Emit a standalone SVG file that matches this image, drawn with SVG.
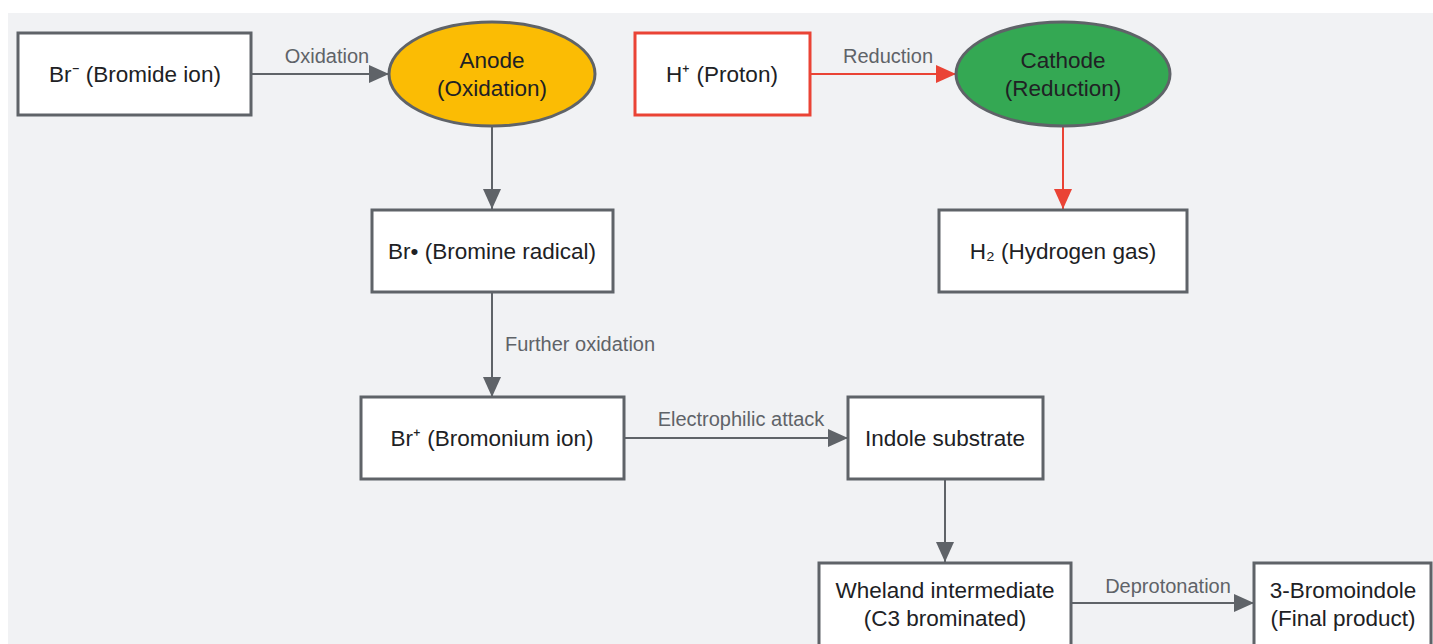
<svg xmlns="http://www.w3.org/2000/svg" width="1433" height="644" viewBox="0 0 1433 644">
<defs>
<marker id="ag" viewBox="0 0 20 20" refX="20" refY="10" markerWidth="20" markerHeight="20" markerUnits="userSpaceOnUse" orient="auto"><path d="M0,1 L20,10 L0,19 Z" fill="#5f6368"/></marker>
<marker id="ar" viewBox="0 0 20 20" refX="20" refY="10" markerWidth="20" markerHeight="20" markerUnits="userSpaceOnUse" orient="auto"><path d="M0,1 L20,10 L0,19 Z" fill="#ea4335"/></marker>
<style>
.box{fill:#ffffff;stroke:#5f6368;stroke-width:3}
.red{stroke:#ea4335}
.t{font-family:"Liberation Sans",Arial,sans-serif;font-size:22.5px;fill:#202124;text-anchor:middle}
.l{font-family:"Liberation Sans",Arial,sans-serif;font-size:20px;fill:#5f6368;text-anchor:middle}
.e{fill:none;stroke:#5f6368;stroke-width:2;marker-end:url(#ag)}
.er{fill:none;stroke:#ea4335;stroke-width:2;marker-end:url(#ar)}
</style>
</defs>
<rect x="0" y="0" width="1433" height="644" fill="#ffffff"/>
<rect x="8" y="13" width="1425" height="631" fill="#f1f2f4"/>
<g id="connectors">
<path class="e" d="M251,74 L389,74"/>
<text class="l" x="327" y="63">Oxidation</text>
<path class="e" d="M492,126 L492,209"/>
<path class="e" d="M492,292 L492,397"/>
<text class="l" x="505" y="351" style="text-anchor:start">Further oxidation</text>
<path class="e" d="M624,438 L848,438"/>
<text class="l" x="741" y="426">Electrophilic attack</text>
<path class="e" d="M945,479 L945,562"/>
<path class="e" d="M1071,603 L1254,603"/>
<text class="l" x="1168" y="593">Deprotonation</text>
<path class="er" d="M810,74 L956,74"/>
<text class="l" x="888" y="63">Reduction</text>
<path class="er" d="M1063,126 L1063,209"/>
</g>
<g id="bromide"><rect class="box" x="18" y="33" width="233" height="82"/><text class="t" x="135" y="82">Br⁻ (Bromide ion)</text></g>
<g id="anode"><ellipse cx="492" cy="74" rx="103" ry="52" fill="#fbbc04" stroke="#5f6368" stroke-width="3"/><text class="t" x="492" y="68">Anode</text><text class="t" x="492" y="96">(Oxidation)</text></g>
<g id="proton"><rect class="box red" x="635" y="33" width="175" height="82"/><text class="t" x="722" y="82">H⁺ (Proton)</text></g>
<g id="cathode"><ellipse cx="1063" cy="74" rx="107" ry="52" fill="#34a853" stroke="#5f6368" stroke-width="3"/><text class="t" x="1063" y="68">Cathode</text><text class="t" x="1063" y="96">(Reduction)</text></g>
<g id="radical"><rect class="box" x="372" y="210" width="241" height="82"/><text class="t" x="492" y="259">Br• (Bromine radical)</text></g>
<g id="hydrogen"><rect class="box" x="939" y="210" width="248" height="82"/><text class="t" x="1063" y="259">H₂ (Hydrogen gas)</text></g>
<g id="bromonium"><rect class="box" x="361" y="397" width="263" height="82"/><text class="t" x="492" y="446">Br⁺ (Bromonium ion)</text></g>
<g id="indole"><rect class="box" x="848" y="397" width="195" height="82"/><text class="t" x="945" y="446">Indole substrate</text></g>
<g id="wheland"><rect class="box" x="819" y="563" width="252" height="90"/><text class="t" x="945" y="598">Wheland intermediate</text><text class="t" x="945" y="626">(C3 brominated)</text></g>
<g id="product"><rect class="box" x="1254" y="563" width="177" height="90"/><text class="t" x="1343" y="598">3-Bromoindole</text><text class="t" x="1343" y="626">(Final product)</text></g>
</svg>
